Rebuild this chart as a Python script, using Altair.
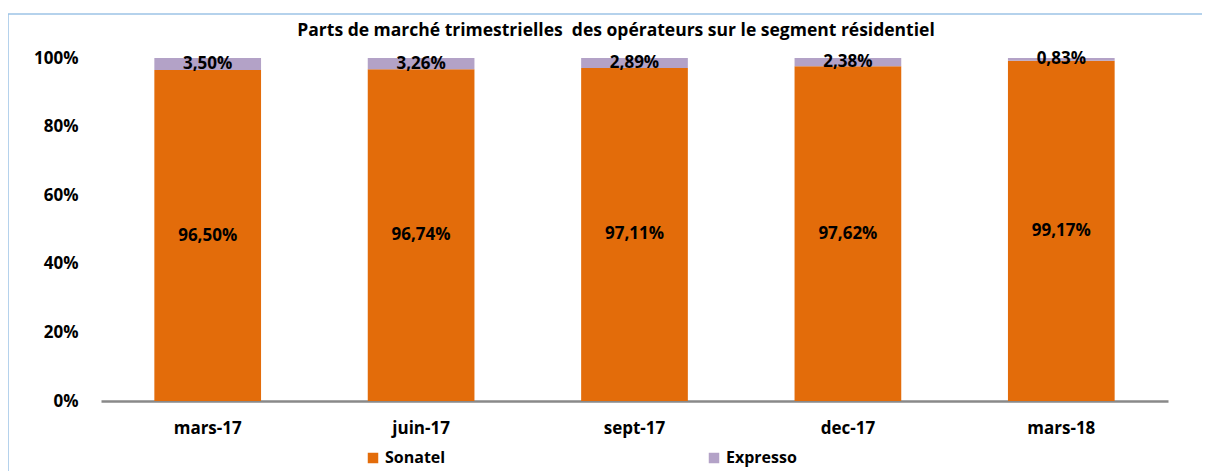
import altair as alt
import pandas as pd

periods = ["mars-17", "juin-17", "sept-17", "dec-17", "mars-18"]
sonatel = [96.50, 96.74, 97.11, 97.62, 99.17]
expresso = [3.50, 3.26, 2.89, 2.38, 0.83]
operators = ["Sonatel", "Expresso"]
colors = ["#E36C0A", "#B3A2C7"]
title_text = "Parts de marché trimestrielles\u00a0 des opérateurs sur le segment résidentiel"

rows = []
for i, p in enumerate(periods):
    for k, (op, vals) in enumerate(zip(operators, [sonatel, expresso])):
        v = vals[i]
        rows.append({"period": p, "operator": op, "value": v / 100.0, "order": k,
                     "label": f"{v:.2f}".replace(".", ",") + "%"})
df = pd.DataFrame(rows)

FONT = "Open Sans"

base = alt.Chart(df)

x = alt.X("period:N", sort=periods, title=None,
          scale=alt.Scale(paddingInner=0.5, paddingOuter=0.25),
          axis=alt.Axis(labelAngle=0, ticks=False, domainColor="#898989", domainWidth=2.5,
                        labelFont=FONT, labelFontWeight="bold", labelFontSize=17,
                        labelColor="black", labelPadding=19))

bars = base.mark_bar().encode(
    x=x,
    y=alt.Y("value:Q", stack="zero", title=None,
            scale=alt.Scale(domain=[0, 1]),
            axis=alt.Axis(format=".0%", values=[0, 0.2, 0.4, 0.6, 0.8, 1.0], grid=False,
                          domain=False, ticks=False, labelFont=FONT, labelFontWeight="bold",
                          labelFontSize=17, labelColor="black", labelPadding=23)),
    color=alt.Color("operator:N", sort=operators,
                    scale=alt.Scale(domain=operators, range=colors),
                    legend=alt.Legend(title=None, orient="none", direction="horizontal",
                                      legendX=264, legendY=392, symbolType="square",
                                      symbolSize=110, symbolStrokeWidth=0, columnPadding=260,
                                      labelFont=FONT, labelFontWeight="bold", labelFontSize=16,
                                      labelColor="black", labelOffset=4)),
    order=alt.Order("order:Q"),
)

labels = base.transform_stack(
    stack="value", groupby=["period"], as_=["v0", "v1"], sort=[alt.SortField("order")]
).transform_calculate(
    mid="(datum.v0 + datum.v1) / 2"
).mark_text(font=FONT, fontWeight="bold", fontSize=17, color="black").encode(
    x=alt.X("period:N", sort=periods),
    y=alt.Y("mid:Q"),
    text="label:N",
)

border = alt.Chart(pd.DataFrame({"a": [0]})).mark_rect(
    fill=None, stroke="#9DC3E6", strokeWidth=1.5
).encode(x=alt.value(-93), x2=alt.value(1115), y=alt.value(-44), y2=alt.value(460))

title = alt.Chart(pd.DataFrame({"t": [title_text]})).mark_text(
    font=FONT, fontSize=17.5, fontWeight="bold", color="black", align="center", baseline="middle"
).encode(x=alt.value(515), y=alt.value(-27), text="t:N")

chart = alt.layer(border, bars, labels, title).properties(
    width=1067, height=343,
    autosize=alt.AutoSizeParams(type="none"),
    padding={"left": 93, "top": 50, "right": 34, "bottom": 70},
    view=alt.ViewBackground(stroke="transparent", strokeWidth=0),
).configure_view(strokeWidth=0, stroke="transparent").configure(background="white")

chart.save("out.html", embed_options={"renderer": "svg", "actions": False})
